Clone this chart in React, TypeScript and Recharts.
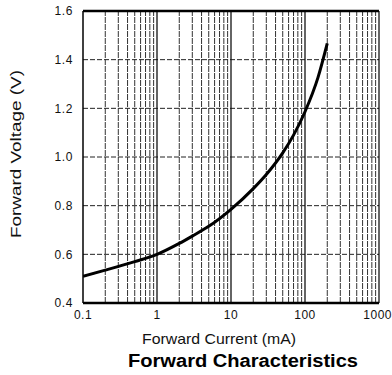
import React from "react";
import { LineChart, Line, XAxis, YAxis, CartesianGrid, ReferenceLine } from "recharts";

const currentMA = [0.1, 0.2, 0.5, 1, 2, 3, 5, 10, 20, 30, 50, 70, 100, 150, 200];
const forwardV = [0.51, 0.535, 0.57, 0.6, 0.645, 0.675, 0.715, 0.785, 0.87, 0.928, 1.017, 1.09, 1.186, 1.327, 1.467];

const xTicks = [0.1, 1, 10, 100, 1000];
const yTicks = [0.4, 0.6, 0.8, 1.0, 1.2, 1.4, 1.6];
const minorX = [
  0.2, 0.3, 0.4, 0.5, 0.6, 0.7, 0.8, 0.9,
  2, 3, 4, 5, 6, 7, 8, 9,
  20, 30, 40, 50, 60, 70, 80, 90,
  200, 300, 400, 500, 600, 700, 800, 900,
];
const majorX = [1, 10, 100];

const xLabel = "Forward Current (mA)";
const yLabel = "Forward Voltage (V)";
const title = "Forward Characteristics";

const data = currentMA.map((c, i) => ({ current: c, voltage: forwardV[i] }));

const FONT = '"Liberation Sans", Arial, Helvetica, sans-serif';

const XTick = (props: any) => {
  const { x, y, payload } = props;
  const v = payload.value;
  const isLast = v === xTicks[xTicks.length - 1];
  return (
    <text
      x={isLast ? x + 13 : x}
      y={y}
      dy="0.71em"
      textAnchor={isLast ? "end" : "middle"}
      fontSize={12}
      fill="#111"
      fontFamily={FONT}
      letterSpacing={0.5}
    >
      {String(v)}
    </text>
  );
};

export default function App() {
  const tickStyle = { fontSize: 12, fill: "#111", fontFamily: FONT, letterSpacing: 0.6 };
  return (
    <div style={{ position: "absolute", left: 0, top: 0, width: 392, height: 375, background: "#fff" }}>
      <LineChart
        width={392}
        height={375}
        data={data}
        margin={{ top: 11, right: 13, bottom: 0, left: 0 }}
      >
        <CartesianGrid vertical={false} stroke="#222" strokeDasharray="5 2" />
        {minorX.map((v) => (
          <ReferenceLine key={"m" + v} x={v} stroke="#333" strokeWidth={1} strokeDasharray="6 1" ifOverflow="visible" />
        ))}
        {majorX.map((v) => (
          <ReferenceLine key={"M" + v} x={v} stroke="#111" strokeWidth={1.3} ifOverflow="visible" />
        ))}
        <ReferenceLine y={1.6} stroke="#000" strokeWidth={2.5} />
        <ReferenceLine y={0.4} stroke="#000" strokeWidth={2.5} />
        <ReferenceLine x={0.1} stroke="#000" strokeWidth={1.5} />
        <ReferenceLine x={1000} stroke="#000" strokeWidth={1.2} />
        <XAxis
          dataKey="current"
          type="number"
          scale="log"
          domain={[0.1, 1000]}
          ticks={xTicks}
          allowDataOverflow
          tick={<XTick />}
          tickLine={false}
          axisLine={false}
          tickSize={0}
          tickMargin={7}
          height={72}
          interval={0}
        />
        <YAxis
          type="number"
          domain={[0.4, 1.6]}
          ticks={yTicks}
          tickFormatter={(v: number) => v.toFixed(1)}
          tick={tickStyle}
          tickLine={false}
          axisLine={false}
          tickSize={0}
          tickMargin={10}
          width={83}
          interval={0}
        />
        <Line
          type="monotone"
          dataKey="voltage"
          stroke="#000"
          strokeWidth={3}
          dot={false}
          isAnimationActive={false}
        />
      </LineChart>
      <svg
        width={392}
        height={375}
        style={{ position: "absolute", left: 0, top: 0, pointerEvents: "none" }}
      >
        <text
          x={15}
          y={154}
          transform="rotate(-90 15 154)"
          textAnchor="middle"
          dominantBaseline="central"
          fontFamily={FONT}
          fontSize={15}
          fill="#111"
          textLength={168}
          lengthAdjust="spacingAndGlyphs"
        >
          {yLabel}
        </text>
        <text
          x={219}
          y={344}
          textAnchor="middle"
          fontFamily={FONT}
          fontSize={15}
          fill="#111"
          textLength={154}
          lengthAdjust="spacingAndGlyphs"
        >
          {xLabel}
        </text>
        <text
          x={243}
          y={367}
          textAnchor="middle"
          fontFamily={FONT}
          fontSize={18}
          fontWeight="bold"
          fill="#000"
          textLength={230}
          lengthAdjust="spacingAndGlyphs"
        >
          {title}
        </text>
      </svg>
    </div>
  );
}
